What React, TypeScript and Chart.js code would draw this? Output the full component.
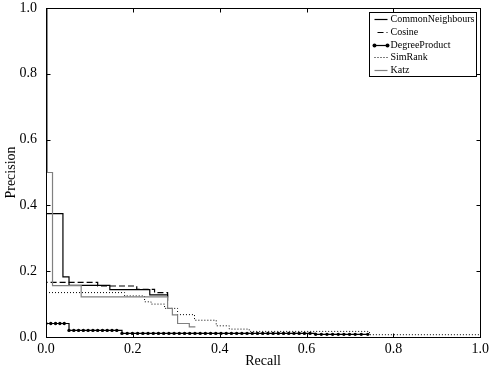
import React, { useEffect, useRef } from "react";
import { Chart, registerables } from "chart.js";

Chart.register(...registerables);

// ---------- data ----------
const seriesNames = ["CommonNeighbours", "Cosine", "DegreeProduct", "SimRank", "Katz"];
const xTickValues = [0, 0.2, 0.4, 0.6, 0.8, 1.0];
const yTickValues = [0, 0.2, 0.4, 0.6, 0.8, 1.0];

const cnRecall = [0, 0.001, 0.039, 0.053, 0.147, 0.239, 0.28];
const cnPrecision = [1.0, 0.375, 0.183, 0.157, 0.144, 0.128, 0.11];

const cosRecall = [0, 0.001, 0.119, 0.209, 0.25, 0.28];
const cosPrecision = [1.0, 0.166, 0.155, 0.145, 0.135, 0.12];

const dpRecall = [
  0, 0.011, 0.022, 0.032, 0.042, 0.053, 0.064, 0.075, 0.086, 0.097, 0.108, 0.119, 0.13, 0.141, 0.152, 0.163,
  0.175, 0.187, 0.199, 0.211, 0.223, 0.235, 0.247, 0.259, 0.271, 0.283, 0.295, 0.307, 0.319, 0.331, 0.343,
  0.355, 0.367, 0.379, 0.391, 0.403, 0.415, 0.427, 0.439, 0.451, 0.463, 0.475, 0.487, 0.499, 0.511, 0.523,
  0.535, 0.547, 0.559, 0.571, 0.583, 0.595, 0.608, 0.621, 0.634, 0.647, 0.66, 0.673, 0.686, 0.699, 0.712,
  0.726, 0.741,
];
const dpPrecision = [
  0.041, 0.041, 0.041, 0.041, 0.041,
  0.02, 0.02, 0.02, 0.02, 0.02, 0.02, 0.02, 0.02, 0.02, 0.02, 0.02,
  0.011, 0.011, 0.011, 0.011, 0.011, 0.011, 0.011, 0.011, 0.011, 0.011, 0.011, 0.011, 0.011, 0.011, 0.011,
  0.011, 0.011, 0.011, 0.011, 0.011, 0.011, 0.011, 0.011, 0.011, 0.011, 0.011, 0.011, 0.011, 0.011, 0.011,
  0.011, 0.011, 0.011, 0.011, 0.011, 0.011, 0.011,
  0.008, 0.008, 0.008, 0.008, 0.008, 0.008, 0.008, 0.008, 0.008, 0.008,
];

const simRecall = [0, 0.181, 0.227, 0.242, 0.273, 0.303, 0.342, 0.392, 0.422, 0.468, 0.745, 1.0];
const simPrecision = [0.135, 0.125, 0.107, 0.1, 0.087, 0.068, 0.051, 0.034, 0.024, 0.017, 0.007, 0.007];

const katzRecall = [0, 0.003, 0.015, 0.081, 0.28, 0.291, 0.303, 0.33, 0.344];
const katzPrecision = [1.0, 0.5, 0.156, 0.122, 0.087, 0.067, 0.041, 0.031, 0.031];

const pairs = (xs: number[], ys: number[]) => xs.map((x, i) => ({ x, y: ys[i] }));

const FONT = '"Liberation Serif", "DejaVu Serif", serif';

const framePlugin = {
  id: "frame",
  afterDatasetsDraw(chart: any) {
    const { ctx, chartArea, scales } = chart;
    const l = Math.round(chartArea.left) + 0.5;
    const r = Math.round(chartArea.right) + 0.5;
    const t = Math.round(chartArea.top) + 0.5;
    const b = Math.round(chartArea.bottom) + 0.5;
    ctx.save();
    ctx.strokeStyle = "#000";
    ctx.lineWidth = 1;
    ctx.strokeRect(l, t, r - l, b - t);
    const tl = 4;
    ctx.beginPath();
    xTickValues.forEach((v) => {
      const px = Math.round(scales.x.getPixelForValue(v)) + 0.5;
      ctx.moveTo(px, b);
      ctx.lineTo(px, b - tl);
      ctx.moveTo(px, t);
      ctx.lineTo(px, t + tl);
    });
    yTickValues.forEach((v) => {
      const py = Math.round(scales.y.getPixelForValue(v)) + 0.5;
      ctx.moveTo(l, py);
      ctx.lineTo(l + tl, py);
      ctx.moveTo(r, py);
      ctx.lineTo(r - tl, py);
    });
    ctx.stroke();
    ctx.restore();
  },
};

const legendPlugin = {
  id: "boxLegend",
  afterDraw(chart: any) {
    const { ctx, chartArea } = chart;
    const ds = chart.data.datasets;
    ctx.save();
    ctx.font = `10px ${FONT}`;
    const textW = Math.max(...ds.map((d: any) => ctx.measureText(d.label).width));
    const rowH = 12.8;
    const boxW = Math.round(21 + textW + 2);
    const boxH = Math.round(rowH * ds.length);
    const x1 = Math.round(chartArea.right - 4 - boxW) + 0.5;
    const y1 = Math.round(chartArea.top + 4) + 0.5;
    ctx.fillStyle = "#fff";
    ctx.fillRect(x1, y1, boxW, boxH);
    ctx.strokeStyle = "#000";
    ctx.lineWidth = 1;
    ctx.strokeRect(x1, y1, boxW, boxH);
    ds.forEach((d: any, i: number) => {
      const cy = y1 + rowH / 2 + i * rowH;
      const sx0 = x1 + 5;
      const sx1 = x1 + 18;
      ctx.save();
      ctx.strokeStyle = d.borderColor;
      ctx.lineWidth = d.borderWidth;
      ctx.setLineDash(d.borderDash || []);
      if (d.borderDash && d.borderDash[0] > 3) ctx.lineDashOffset = -3;
      ctx.beginPath();
      ctx.moveTo(sx0, Math.round(cy) + 0.5);
      ctx.lineTo(sx1, Math.round(cy) + 0.5);
      ctx.stroke();
      ctx.restore();
      if (d.pointRadius > 0) {
        ctx.fillStyle = d.pointBackgroundColor;
        [sx0, sx1].forEach((px) => {
          ctx.beginPath();
          ctx.arc(px, Math.round(cy) + 0.5, d.pointRadius + 0.3, 0, Math.PI * 2);
          ctx.fill();
        });
      }
      ctx.fillStyle = "#000";
      ctx.textBaseline = "middle";
      ctx.textAlign = "left";
      ctx.fillText(d.label, x1 + 21, cy + 0.5);
    });
    ctx.restore();
  },
};

export default function App() {
  const ref = useRef<HTMLCanvasElement>(null);

  useEffect(() => {
    const canvas = ref.current;
    if (!canvas) return;
    const base = {
      pointRadius: 0,
      borderWidth: 1.2,
      stepped: "before" as const,
      fill: false,
      tension: 0,
    };
    const chart = new Chart(canvas, {
      type: "line",
      data: {
        datasets: [
          { ...base, label: seriesNames[0], data: pairs(cnRecall, cnPrecision), borderColor: "#000", order: 4 },
          { ...base, label: seriesNames[1], data: pairs(cosRecall, cosPrecision), borderColor: "#000", borderDash: [6, 3], order: 3 },
          {
            ...base,
            label: seriesNames[2],
            data: pairs(dpRecall, dpPrecision),
            borderColor: "#000",
            pointRadius: 1.7,
            pointBackgroundColor: "#000",
            pointBorderColor: "#000",
            pointBorderWidth: 0,
            order: 2,
          },
          { ...base, label: seriesNames[3], data: pairs(simRecall, simPrecision), borderColor: "#000", borderWidth: 1, borderDash: [1, 2], order: 1 },
          { ...base, label: seriesNames[4], data: pairs(katzRecall, katzPrecision), borderColor: "#808080", order: 0 },
        ],
      },
      options: {
        animation: false,
        responsive: true,
        maintainAspectRatio: false,
        layout: { padding: { top: 8, right: 11, left: 0, bottom: 0 } },
        plugins: { legend: { display: false }, tooltip: { enabled: false } },
        scales: {
          x: {
            type: "linear",
            min: 0,
            max: 1,
            grid: { display: false, drawTicks: false },
            border: { display: false },
            ticks: {
              stepSize: 0.2,
              padding: 4,
              color: "#000",
              font: { family: FONT, size: 14 },
              maxRotation: 0,
              callback: (v: any) => Number(v).toFixed(1),
            },
            title: { display: true, text: "Recall", color: "#000", font: { family: FONT, size: 14 }, padding: { top: 0, bottom: 4 } },
            afterFit: (s: any) => {
              s.height = 37;
            },
          },
          y: {
            type: "linear",
            min: 0,
            max: 1,
            grid: { display: false, drawTicks: false },
            border: { display: false },
            ticks: {
              stepSize: 0.2,
              padding: 9,
              color: "#000",
              font: { family: FONT, size: 14 },
              callback: (v: any) => Number(v).toFixed(1),
            },
            title: { display: true, text: "Precision", color: "#000", font: { family: FONT, size: 14 }, padding: { top: 3, bottom: 0 } },
            afterFit: (s: any) => {
              s.width = 46;
              s.paddingTop = 0;
              s.paddingBottom = 0;
            },
          },
        },
      },
      plugins: [framePlugin, legendPlugin],
    });
    return () => chart.destroy();
  }, []);

  return (
    <div style={{ position: "fixed", left: 0, top: 0, width: 493, height: 374, background: "#fff" }}>
      <canvas ref={ref} />
    </div>
  );
}
